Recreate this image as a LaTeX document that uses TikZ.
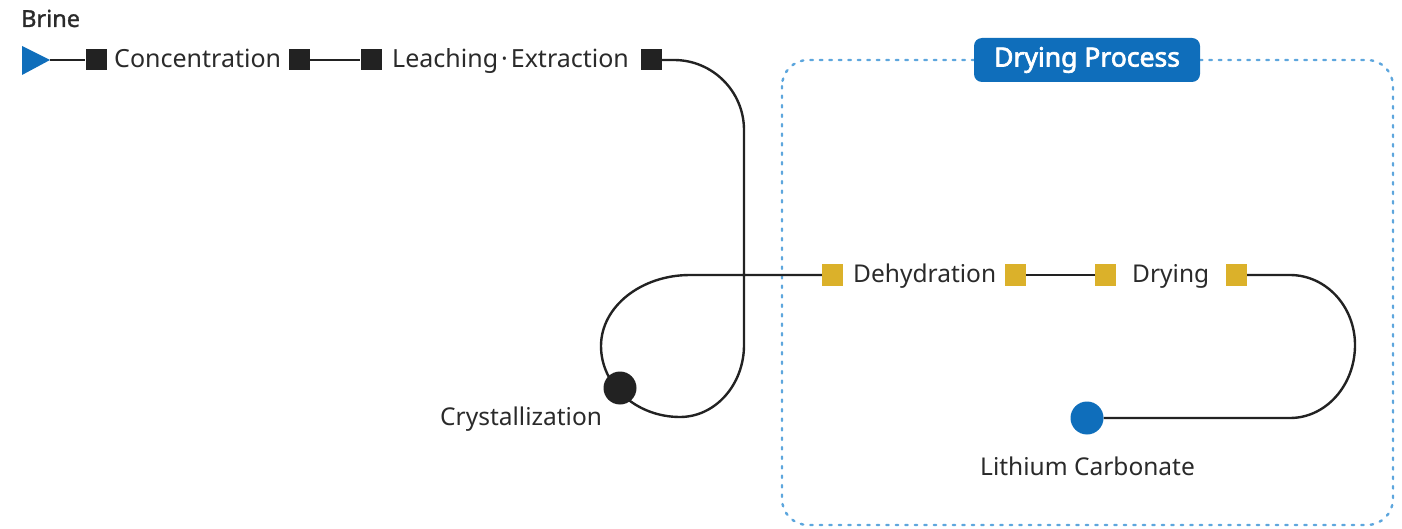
\documentclass[tikz,border=0pt]{standalone}
\usepackage{fontspec}
\setmainfont{Noto Sans}
\newfontfamily\boldish{Noto Sans}[FakeBold=1.2]
\newfontfamily\tagbold{Noto Sans}[FakeBold=2.6]
\usetikzlibrary{backgrounds}
\definecolor{inkblack}{HTML}{222222}
\definecolor{txtgray}{HTML}{2A2A2A}
\definecolor{goldsq}{HTML}{DBB12A}
\definecolor{mainblue}{HTML}{0F6EBB}
\definecolor{dotblue}{HTML}{5DA6DD}
\newcommand{\lblfont}{\fontsize{24.5}{29}\selectfont}
\begin{document}
\begin{tikzpicture}[x=1pt,y=-1pt,
  sq/.style={rectangle, minimum size=21pt, inner sep=0pt, fill=inkblack},
  gsq/.style={sq, fill=goldsq},
  lbl/.style={font=\lblfont, text=txtgray, inner sep=0pt, anchor=base west},
  conn/.style={draw=inkblack, line width=2.4pt},
  dotbox/.style={draw=dotblue, line width=2.4pt, dash pattern=on 2.5pt off 7pt, line cap=round, rounded corners=26pt},
  tag/.style={fill=mainblue, rounded corners=8pt, minimum width=226pt, minimum height=44pt, inner sep=0pt, text=white, font=\tagbold\fontsize{26.5}{31}\selectfont},
  dotnode/.style={circle, inner sep=0pt, minimum size=33pt}
]
\useasboundingbox (0,0) rectangle (1402,529);

% labels
\node[lbl, font=\boldish\fontsize{23.5}{28}\selectfont] (brine) at (21,27) {Brine};
\coordinate (tip) at (50,60);
\node[sq] (s1) at (96,60) {};
\node[lbl, font=\fontsize{25}{29}\selectfont] (conc) at (114,68) {Concentration};
\node[sq] (s2) at (299.5,60) {};
\node[sq] (s3) at (371,60) {};
\node[lbl, font=\fontsize{25}{29}\selectfont] (leach) at (392,68) {Leaching\kern3pt·\kern3pt Extraction};
\node[sq] (s4) at (651.5,60) {};

\node[gsq] (g1) at (832.5,275) {};
\node[lbl] (dehyd) at (853,283) {Dehydration};
\node[gsq] (g2) at (1015.5,275) {};
\node[gsq] (g3) at (1105.5,275) {};
\node[lbl] (dry) at (1132,283) {Drying};
\node[gsq] (g4) at (1236,275) {};

\node[dotnode, fill=inkblack] (cryst) at (620,388) {};
\node[lbl] (crystl) at (440,425) {Crystallization};
\node[dotnode, fill=mainblue] (lico) at (1087,418) {};
\node[lbl] (licol) at (980,475) {Lithium Carbonate};

\node[tag] (title) at (1087,60) {\raisebox{-1pt}{Drying Process}};

% waypoints
\coordinate (a1) at (674,60);
\coordinate (a2) at (744,130);
\coordinate (a3) at (744,345);
\coordinate (a4) at (680,417);
\coordinate (a5) at (601,346);
\coordinate (a6) at (690,275);
\coordinate (b1) at (1290,275);
\coordinate (b2) at (1355,345);
\coordinate (b3) at (1290,418);

\begin{scope}[on background layer]
  \draw[dotbox] (782,60) rectangle (1393,525);
  \fill[mainblue] (22,46) -- (tip) -- (22,75) -- cycle;
  \draw[conn] (tip) -- (s1.west);
  \draw[conn] (s2.east) -- (s3.west);
  \draw[conn] (s4.east) -- (a1)
     .. controls (712.6,60) and (744,91.4) .. (a2)
     -- (a3)
     .. controls (744,384.7) and (715.3,417) .. (a4)
     .. controls (636.4,417) and (601,385.2) .. (a5)
     .. controls (601,306.8) and (640.9,275) .. (a6)
     -- (g1.west);
  \draw[conn] (g2.east) -- (g3.west);
  \draw[conn] (g4.east) -- (b1)
     .. controls (1325.9,275) and (1355,306.4) .. (b2)
     .. controls (1355,385.3) and (1325.9,418) .. (b3)
     -- (lico.east);
\end{scope}
\end{tikzpicture}
\end{document}
